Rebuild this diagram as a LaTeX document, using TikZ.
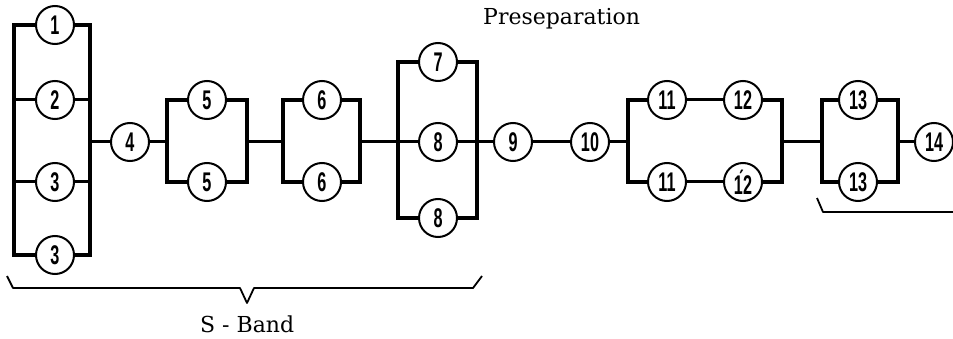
\documentclass[tikz,border=0pt]{standalone}
\usepackage{fontspec}
\usepackage{graphicx}
\newfontfamily\dgfont{Liberation Sans}
\newfontfamily\lblfont{DejaVu Serif}
\newcommand\dg[1]{\scalebox{0.6}[1]{#1}}
\begin{document}
\begin{tikzpicture}[x=1pt,y=-1pt,
  blk/.style={circle,draw,line width=2pt,minimum size=38pt,inner sep=0pt,fill=white,
    font={\dgfont\bfseries\fontsize{27}{27}\selectfont}},
  rail/.style={line width=3.3pt,line cap=rect},
  link/.style={line width=3pt},
  brace/.style={line width=1.8pt,line join=round},
  lbl/.style={font={\lblfont\fontsize{22}{22}\selectfont},inner sep=0pt}]
\useasboundingbox (0,0) rectangle (953,339);
% rails coordinates
\coordinate (A1) at (14,25);   \coordinate (A2) at (14,255);
\coordinate (B1) at (90,25);   \coordinate (B2) at (90,255);
\coordinate (C1) at (167,100); \coordinate (C2) at (167,182);
\coordinate (D1) at (247,100); \coordinate (D2) at (247,182);
\coordinate (E1) at (283,100); \coordinate (E2) at (283,182);
\coordinate (F1) at (360,100); \coordinate (F2) at (360,182);
\coordinate (G1) at (398,62);  \coordinate (G2) at (398,218);
\coordinate (H1) at (477,62);  \coordinate (H2) at (477,218);
\coordinate (I1) at (628,100); \coordinate (I2) at (628,182);
\coordinate (J1) at (782,100); \coordinate (J2) at (782,182);
\coordinate (K1) at (822,100); \coordinate (K2) at (822,182);
\coordinate (M1) at (898,100); \coordinate (M2) at (898,182);
% brace points
\coordinate (p1) at (7,276);   \coordinate (p2) at (13,288);
\coordinate (p3) at (240,288); \coordinate (p4) at (247,303);
\coordinate (p5) at (254,288); \coordinate (p6) at (473,288);
\coordinate (p7) at (482,276);
\coordinate (q1) at (817,198); \coordinate (q2) at (823,212);
\coordinate (q3) at (953,212);

% group 1-3
\draw[rail] (55,25) -| (A2) -- (55,255);
\draw[rail] (55,25) -| (B2) -- (55,255);
\draw[link] (A1 |- 0,100) -- (B1 |- 0,100);
\draw[link] (A1 |- 0,182) -- (B1 |- 0,182);
\node[blk] (c1) at (55,25) {\dg{1}};
\node[blk] (c2) at (55,100) {\dg{2}};
\node[blk] (c3a) at (55,182) {\dg{3}};
\node[blk] (c3b) at (55,255) {\dg{3}};
\node[blk] (c4) at (130,142) {\dg{4}};
\draw[link] (c4.west -| B1) -- (c4.west);
\draw[link] (c4.east) -- (c4.east -| C1);
% group 5
\draw[rail] (207,100) -| (C2) -- (207,182);
\draw[rail] (207,100) -| (D2) -- (207,182);
\node[blk] (c5a) at (207,100) {\dg{5}};
\node[blk] (c5b) at (207,182) {\dg{5}};
\draw[link] (D1 |- c4) -- (E1 |- c4);
% group 6
\draw[rail] (322,100) -| (E2) -- (322,182);
\draw[rail] (322,100) -| (F2) -- (322,182);
\node[blk] (c6a) at (322,100) {\dg{6}};
\node[blk] (c6b) at (322,182) {\dg{6}};
% group 7-8
\draw[rail] (438,62) -| (G2) -- (438,218);
\draw[rail] (438,62) -| (H2) -- (438,218);
\node[blk] (c7) at (438,62) {\dg{7}};
\node[blk] (c8a) at (438,142) {\dg{8}};
\node[blk] (c8b) at (438,218) {\dg{8}};
\draw[link] (F1 |- c8a) -- (c8a.west);
\node[blk] (c9) at (513,142) {\dg{9}};
\node[blk] (c10) at (590,142) {\dg{10}};
\draw[link] (c8a.east) -- (c9.west);
\draw[link] (c9.east) -- (c10.west);
\draw[link] (c10.east) -- (c10.east -| I1);
% group 11-12
\draw[rail] (667,100) -| (I2) -- (667,182);
\draw[rail] (743,100) -| (J2) -- (743,182);
\node[blk] (c11a) at (667,100) {\dg{11}};
\node[blk] (c12a) at (743,100) {\dg{12}};
\node[blk] (c11b) at (667,182) {\dg{11}};
\node[blk] (c12b) at (743,182) {\dg{\'{1}2}};
\draw[link] (c11a) -- (c12a);
\draw[link] (c11b) -- (c12b);
\draw[link] (J1 |- c10) -- (K1 |- c10);
% group 13
\draw[rail] (858,100) -| (K2) -- (858,182);
\draw[rail] (858,100) -| (M2) -- (858,182);
\node[blk] (c13a) at (858,100) {\dg{13}};
\node[blk] (c13b) at (858,182) {\dg{13}};
\node[blk] (c14) at (934,142) {\dg{14}};
\draw[link] (c14.west -| M1) -- (c14.west);
% braces
\draw[brace] (p1) -- (p2) -- (p3) -- (p4) -- (p5) -- (p6) -- (p7);
\draw[brace] (q1) -- (q2) -- (q3);
% labels
\node[lbl,anchor=base west] (pre) at (483,25) {Preseparation};
\node[lbl,anchor=base west] (sb) at (200,332) {S - Band};
\end{tikzpicture}
\end{document}
